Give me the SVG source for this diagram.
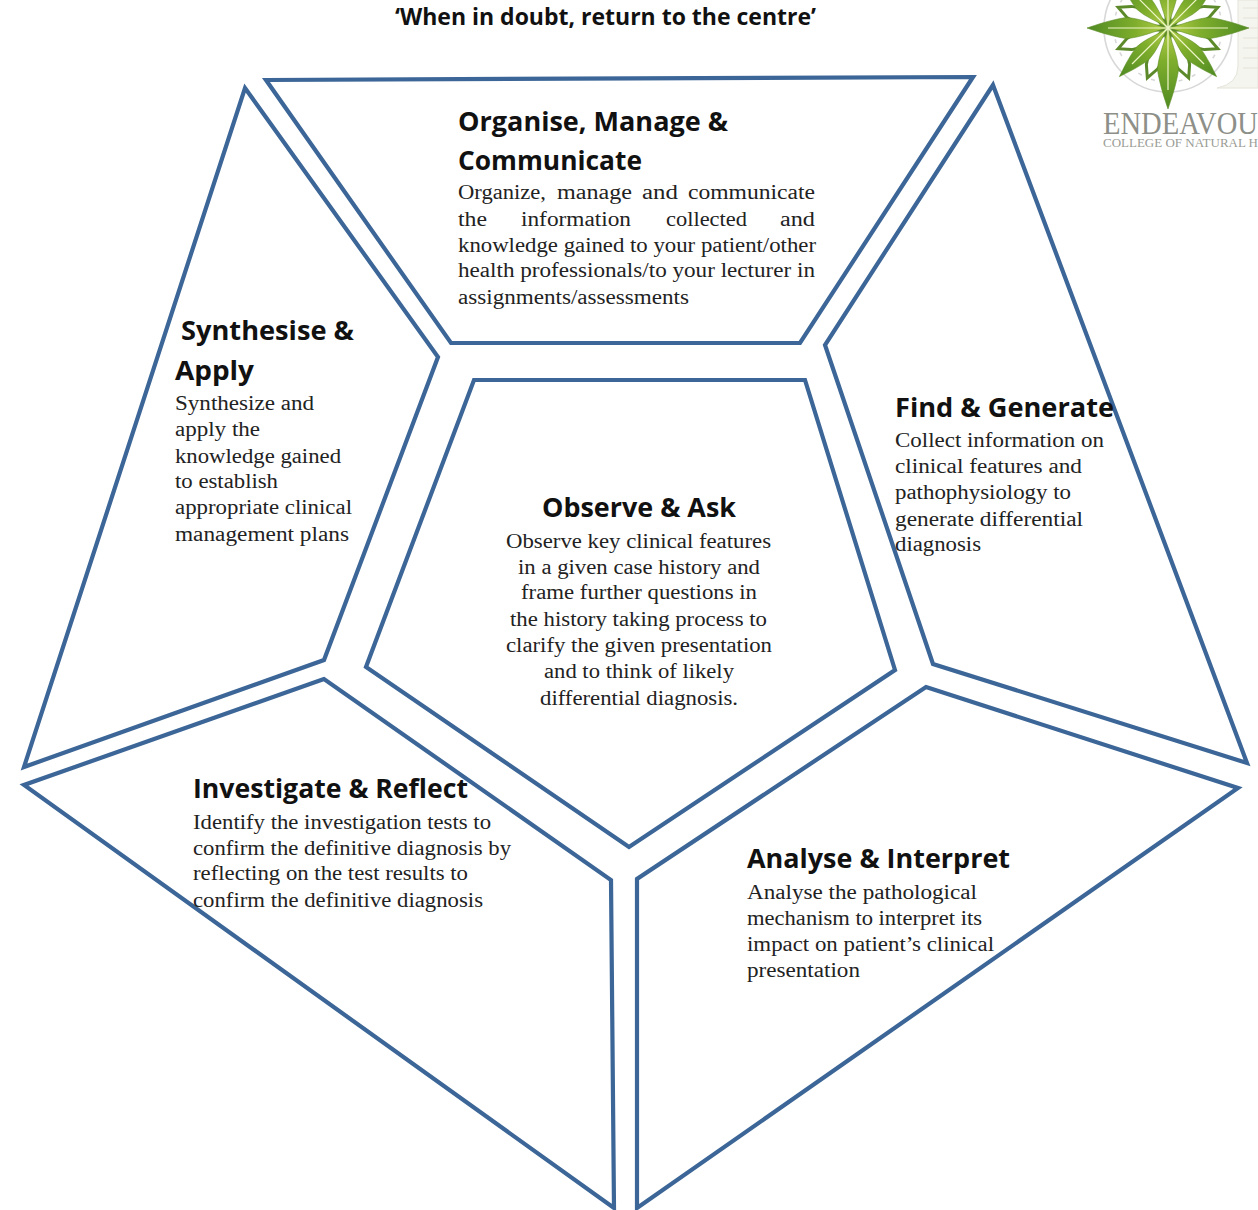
<svg xmlns="http://www.w3.org/2000/svg" width="1258" height="1210" viewBox="0 0 1258 1210">
<style>
.shape{fill:#fff;stroke:#3c6697;stroke-width:4.2;stroke-linejoin:miter}
.h{font-family:"Open Sans","Noto Sans",sans-serif;font-weight:700;font-size:27px;fill:#111}
.b{font-family:"Liberation Serif",serif;font-size:20.5px;fill:#222}
.t{font-family:"Open Sans","Noto Sans",sans-serif;font-weight:700;font-size:23px;fill:#111}
.leaf{stroke:#5f8f2a;stroke-width:.6}
.hollow{fill:#fff;stroke:#5c8a2a;stroke-width:3}
.gear{fill:none;stroke:#d8d8d8;stroke-width:1.6}
.logo1{font-family:"Liberation Serif",serif;font-size:32px;fill:#8d8f88}
.logo2{font-family:"Liberation Serif",serif;font-size:11.5px;fill:#9a9c95}
</style>
<defs>
<linearGradient id="g" x1="0" y1="0" x2="0" y2="1"><stop offset="0" stop-color="#4f8a22"/><stop offset=".6" stop-color="#7fae2c"/><stop offset="1" stop-color="#b7d04a"/></linearGradient>
<path id="lf" d="M0 0C-3 -14 -10 -28 -10.500 -42C-8 -58 -3 -72 0 -81C3 -72 8 -58 10.500 -42C10 -28 3 -14 0 0Z"/>
<path id="hl" d="M0 -6C-7 -18 -9 -30 -6 -42L0 -54L6 -42C9 -30 7 -18 0 -6Z"/>
</defs>
<rect width="1258" height="1210" fill="#fff"/>
<g id="title"><text class="t" x="395" y="25" textLength="421" lengthAdjust="spacingAndGlyphs">‘When in doubt, return to the centre’</text></g>
<g id="logo">
<path d="M1238 0H1258V88H1217Q1238 84 1238 66Z" fill="#f5f5ef" stroke="#e4e4da"/>
<path d="M1243 8H1258M1243 18H1258M1243 28H1258M1243 38H1258M1243 48H1258M1243 58H1258M1243 68H1258" stroke="#e3e3d9" stroke-width="1"/>
<circle class="gear" cx="1168" cy="28" r="64"/>
<circle class="gear" cx="1168" cy="28" r="54" stroke-dasharray="4 10"/>
<g transform="translate(1168 28)">
<use href="#hl" class="hollow" transform="rotate(22.500)"/><use href="#hl" class="hollow" transform="rotate(67.500)"/><use href="#hl" class="hollow" transform="rotate(112.500)"/><use href="#hl" class="hollow" transform="rotate(157.500)"/><use href="#hl" class="hollow" transform="rotate(202.500)"/><use href="#hl" class="hollow" transform="rotate(247.500)"/><use href="#hl" class="hollow" transform="rotate(292.500)"/><use href="#hl" class="hollow" transform="rotate(337.500)"/>
<use href="#lf" class="leaf" fill="url(#g)" transform="rotate(45) scale(.85)"/><use href="#lf" class="leaf" fill="url(#g)" transform="rotate(135) scale(.85)"/><use href="#lf" class="leaf" fill="url(#g)" transform="rotate(225) scale(.85)"/><use href="#lf" class="leaf" fill="url(#g)" transform="rotate(315) scale(.85)"/>
<use href="#lf" class="leaf" fill="url(#g)"/><use href="#lf" class="leaf" fill="url(#g)" transform="rotate(90)"/><use href="#lf" class="leaf" fill="url(#g)" transform="rotate(180)"/><use href="#lf" class="leaf" fill="url(#g)" transform="rotate(270)"/>
<path d="M-60 0H60M0 -60V62M-36 -36L36 36M36 -36L-36 36" stroke="#eef6c8" stroke-width="1.2"/>
</g>
<text class="logo1" x="1103" y="134" textLength="155" lengthAdjust="spacingAndGlyphs">ENDEAVOU</text>
<text class="logo2" x="1103" y="147" textLength="155" lengthAdjust="spacingAndGlyphs">COLLEGE OF NATURAL H</text>
</g>
<g id="node-organise">
<polygon class="shape" points="266,80 973,77 800,343 451,343"/>
<text class="h" x="458" y="131" textLength="270" lengthAdjust="spacingAndGlyphs">Organise, Manage &amp;</text>
<text class="h" x="458" y="170" textLength="184" lengthAdjust="spacingAndGlyphs">Communicate</text>
<text class="b" x="458" y="199" textLength="88" lengthAdjust="spacingAndGlyphs">Organize,</text>
<text class="b" x="557" y="199" textLength="75" lengthAdjust="spacingAndGlyphs">manage</text>
<text class="b" x="642" y="199" textLength="36" lengthAdjust="spacingAndGlyphs">and</text>
<text class="b" x="688" y="199" textLength="127" lengthAdjust="spacingAndGlyphs">communicate</text>
<text class="b" x="458" y="226" textLength="29" lengthAdjust="spacingAndGlyphs">the</text>
<text class="b" x="521" y="226" textLength="110" lengthAdjust="spacingAndGlyphs">information</text>
<text class="b" x="666" y="226" textLength="81" lengthAdjust="spacingAndGlyphs">collected</text>
<text class="b" x="780" y="226" textLength="35" lengthAdjust="spacingAndGlyphs">and</text>
<text class="b" x="458" y="252" textLength="358" lengthAdjust="spacingAndGlyphs">knowledge gained to your patient/other</text>
<text class="b" x="458" y="277" textLength="357" lengthAdjust="spacingAndGlyphs">health professionals/to your lecturer in</text>
<text class="b" x="458" y="304" textLength="231" lengthAdjust="spacingAndGlyphs">assignments/assessments</text>
</g>
<g id="node-synthesise">
<polygon class="shape" points="245,88 438,357 324,660 24,767"/>
<text class="h" x="181" y="340" textLength="173" lengthAdjust="spacingAndGlyphs">Synthesise &amp;</text>
<text class="h" x="175" y="380" textLength="79" lengthAdjust="spacingAndGlyphs">Apply</text>
<text class="b" x="175" y="410" textLength="139" lengthAdjust="spacingAndGlyphs">Synthesize and</text>
<text class="b" x="175" y="436" textLength="85" lengthAdjust="spacingAndGlyphs">apply the</text>
<text class="b" x="175" y="463" textLength="166" lengthAdjust="spacingAndGlyphs">knowledge gained</text>
<text class="b" x="175" y="488" textLength="103" lengthAdjust="spacingAndGlyphs">to establish</text>
<text class="b" x="175" y="514" textLength="177" lengthAdjust="spacingAndGlyphs">appropriate clinical</text>
<text class="b" x="175" y="541" textLength="174" lengthAdjust="spacingAndGlyphs">management plans</text>
</g>
<g id="node-find">
<polygon class="shape" points="993,85 1247,763 933,664 825,345"/>
<text class="h" x="895" y="417" textLength="219" lengthAdjust="spacingAndGlyphs">Find &amp; Generate</text>
<text class="b" x="895" y="447" textLength="209" lengthAdjust="spacingAndGlyphs">Collect information on</text>
<text class="b" x="895" y="473" textLength="187" lengthAdjust="spacingAndGlyphs">clinical features and</text>
<text class="b" x="895" y="499" textLength="176" lengthAdjust="spacingAndGlyphs">pathophysiology to</text>
<text class="b" x="895" y="526" textLength="188" lengthAdjust="spacingAndGlyphs">generate differential</text>
<text class="b" x="895" y="551" textLength="86" lengthAdjust="spacingAndGlyphs">diagnosis</text>
</g>
<g id="node-observe">
<polygon class="shape" points="474,380 805,380 895,670 629,847 366,667"/>
<text class="h" x="542" y="517" textLength="194" lengthAdjust="spacingAndGlyphs">Observe &amp; Ask</text>
<text class="b" x="506" y="548" textLength="265" lengthAdjust="spacingAndGlyphs">Observe key clinical features</text>
<text class="b" x="518" y="574" textLength="242" lengthAdjust="spacingAndGlyphs">in a given case history and</text>
<text class="b" x="521" y="599" textLength="236" lengthAdjust="spacingAndGlyphs">frame further questions in</text>
<text class="b" x="510" y="626" textLength="257" lengthAdjust="spacingAndGlyphs">the history taking process to</text>
<text class="b" x="506" y="652" textLength="266" lengthAdjust="spacingAndGlyphs">clarify the given presentation</text>
<text class="b" x="544" y="678" textLength="190" lengthAdjust="spacingAndGlyphs">and to think of likely</text>
<text class="b" x="540" y="705" textLength="198" lengthAdjust="spacingAndGlyphs">differential diagnosis.</text>
</g>
<g id="node-investigate">
<polygon class="shape" points="324,679 24,785 614,1208 611,880"/>
<text class="h" x="193" y="798" textLength="275" lengthAdjust="spacingAndGlyphs">Investigate &amp; Reflect</text>
<text class="b" x="193" y="829" textLength="298" lengthAdjust="spacingAndGlyphs">Identify the investigation tests to</text>
<text class="b" x="193" y="855" textLength="318" lengthAdjust="spacingAndGlyphs">confirm the definitive diagnosis by</text>
<text class="b" x="193" y="880" textLength="275" lengthAdjust="spacingAndGlyphs">reflecting on the test results to</text>
<text class="b" x="193" y="907" textLength="290" lengthAdjust="spacingAndGlyphs">confirm the definitive diagnosis</text>
</g>
<g id="node-analyse">
<polygon class="shape" points="926,687 1238,788 637,1208 637,879"/>
<text class="h" x="747" y="868" textLength="263" lengthAdjust="spacingAndGlyphs">Analyse &amp; Interpret</text>
<text class="b" x="747" y="899" textLength="230" lengthAdjust="spacingAndGlyphs">Analyse the pathological</text>
<text class="b" x="747" y="925" textLength="235" lengthAdjust="spacingAndGlyphs">mechanism to interpret its</text>
<text class="b" x="747" y="951" textLength="247" lengthAdjust="spacingAndGlyphs">impact on patient’s clinical</text>
<text class="b" x="747" y="977" textLength="113" lengthAdjust="spacingAndGlyphs">presentation</text>
</g>
<g id="connectors"/>
</svg>
